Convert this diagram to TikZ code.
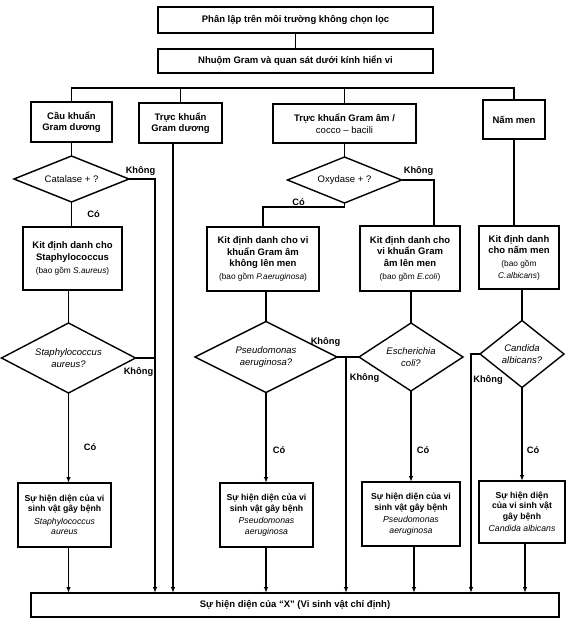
\documentclass[tikz,border=0pt]{standalone}
\usepackage{fontspec}
\setmainfont{Liberation Sans}
\usetikzlibrary{shapes.geometric,arrows.meta}
\newcommand\kitsub{\mdseries\fontsize{8.3}{10}\selectfont}
\newcommand\resit{\mdseries\itshape}
\begin{document}
\begin{tikzpicture}[x=1pt,y=-1pt,
  box/.style 2 args={draw,line width=1.4pt,rectangle,inner sep=1pt,outer sep=0pt,align=center,
    minimum width=#1,minimum height=#2,font=\bfseries\fontsize{9.5}{11.5}\selectfont},
  res/.style 2 args={box={#1}{#2},font=\bfseries\fontsize{8.7}{10.5}\selectfont},
  dia/.style 2 args={draw,line width=1.4pt,diamond,shape aspect=2,inner sep=0pt,outer sep=0pt,align=center,
    minimum width=#1,minimum height=#2,font=\fontsize{9.5}{11.5}\selectfont},
  diai/.style 2 args={dia={#1}{#2},font=\itshape\fontsize{9.5}{11.5}\selectfont},
  lbl/.style={font=\bfseries\fontsize{9.3}{11}\selectfont,inner sep=0pt},
  conn/.style={line width=1.3pt},
  arr/.style={conn,-{Latex[length=6pt,width=4.5pt]}},
]
\useasboundingbox[fill=white] (0,0) rectangle (575,626);

% boxes
\node[box={275}{26}] (top) at (295.5,20) {Phân lập trên môi trường không chọn lọc};
\node[box={275}{24}] (gram) at (295.5,61) {Nhuộm Gram và quan sát dưới kính hiển vi};
\node[box={81}{40}] (cau) at (71.5,122) {Cầu khuẩn\\Gram dương};
\node[box={83}{40}] (tdu) at (180.5,123) {Trực khuẩn\\Gram dương};
\node[box={143}{39}] (tam) at (344.5,123.5) {Trực khuẩn Gram âm /\\{\mdseries cocco – bacili}};
\node[box={62}{39}] (nm) at (514,119.5) {Nấm men};

\node[dia={115}{46}] (dcat) at (71.5,179) {Catalase + ?};
\node[dia={114}{46}] (dox) at (344.5,180) {Oxydase + ?};

\node[box={99}{63}] (kS) at (72.5,258.5) {Kit định danh cho\\Staphylococcus\\[1.5pt]{\kitsub (bao gồm \textit{S.aureus})}};
\node[box={112}{64}] (kP) at (263,259) {Kit định danh cho vi\\khuẩn Gram âm\\không lên men\\[1.5pt]{\kitsub (bao gồm \textit{P.aeruginosa})}};
\node[box={100}{65}] (kE) at (410,258.5) {Kit định danh cho\\vi khuẩn Gram\\âm lên men\\[1.5pt]{\kitsub (bao gồm \textit{E.coli})}};
\node[box={80}{63}] (kN) at (519,257.5) {Kit định danh\\cho nấm men\\[1.5pt]{\kitsub (bao gồm}\\{\kitsub\textit{C.albicans})}};

\node[diai={134}{70}] (dS) at (68.5,358) {Staphylococcus\\aureus?};
\node[diai={142}{71}] (dP) at (266,357) {Pseudomonas\\aeruginosa?};
\node[diai={104}{68}] (dE) at (411,357) {Escherichia\\coli?};
\node[diai={84}{67}] (dC) at (522,354) {Candida\\albicans?};

\node[res={93}{64}] (rS) at (64.5,515) {Sự hiện diện của vi\\sinh vật gây bệnh\\[2pt]{\resit Staphylococcus}\\{\resit aureus}};
\node[res={93}{64}] (rP) at (266.5,515) {Sự hiện diện của vi\\sinh vật gây bệnh\\[2pt]{\resit Pseudomonas}\\{\resit aeruginosa}};
\node[res={98}{64}] (rE) at (411,514) {Sự hiện diện của vi\\sinh vật gây bệnh\\[2pt]{\resit Pseudomonas}\\{\resit aeruginosa}};
\node[res={86}{62}] (rC) at (522,512) {Sự hiện diện\\của vi sinh vật\\gây bệnh\\[2pt]{\resit Candida albicans}};

\node[box={528}{24}] (bot) at (295,605) {Sự hiện diện của “X” (Vi sinh vật chỉ định)};

% connectors
\coordinate (busR) at (514,88);
\coordinate (xK1) at (155,0);
\coordinate (xT) at (173,0);
\coordinate (xOx) at (434,0);
\coordinate (xPE) at (346,0);
\coordinate (xC) at (471,0);
\coordinate (xEo) at (414,0);
\coordinate (xCo) at (525,0);

\draw[conn] (top) -- (gram);
\draw[conn] (cau.north) |- (busR) -- (nm.north);
\draw[conn] (tdu.north) -- (tdu.north |- busR);
\draw[conn] (tam.north) -- (tam.north |- busR);

\draw[conn] (cau.south) -- (dcat.north);
\draw[arr] (dcat.east) -| (bot.north -| xK1);
\draw[conn] (dS.east) -- (dS.east -| xK1);
\draw[arr] (tdu.south -| xT) -- (bot.north -| xT);
\draw[conn] (dcat.south) -- (kS.north -| dcat.south);
\draw[conn] (kS.south -| dS.north) -- (dS.north);
\draw[arr] (dS.south) -- (rS.north -| dS.south);
\draw[arr] (rS.south -| dS.south) -- (bot.north -| dS.south);

\draw[conn] (tam.south) -- (dox.north);
\draw[conn] (dox.east) -| (kE.north -| xOx);
\draw[conn] (dox.south) -- ++(0,4) -| (kP.north);
\draw[conn] (kP.south -| dP.north) -- (dP.north);
\draw[arr] (dP.south) -- (rP.north -| dP.south);
\draw[arr] (rP.south -| dP.south) -- (bot.north -| dP.south);
\draw[conn] (dP.east) -- (dE.west);
\draw[arr] (dP.east -| xPE) -- (bot.north -| xPE);
\draw[conn] (kE.south -| dE.north) -- (dE.north);
\draw[arr] (dE.south) -- (rE.north -| dE.south);
\draw[arr] (rE.south -| xEo) -- (bot.north -| xEo);

\draw[conn] (nm.south) -- (kN.north -| nm.south);
\draw[conn] (kN.south -| dC.north) -- (dC.north);
\draw[arr] (dC.south) -- (rC.north -| dC.south);
\draw[arr] (rC.south -| xCo) -- (bot.north -| xCo);
\draw[arr] (dC.west) -| (bot.north -| xC);

% labels
\node[lbl] (k1) at (140.5,171) {Không};
\node[lbl] (c1) at (93.5,214) {Có};
\node[lbl] (k2) at (138.5,372) {Không};
\node[lbl] (c2) at (90,447) {Có};
\node[lbl] (k3) at (418.5,171) {Không};
\node[lbl] (c3) at (298.5,202) {Có};
\node[lbl] (k4) at (325.5,342) {Không};
\node[lbl] (k5) at (364.5,378) {Không};
\node[lbl] (c4) at (279,450) {Có};
\node[lbl] (c5) at (423,450) {Có};
\node[lbl] (c6) at (533,450) {Có};
\node[lbl] (k6) at (488,380) {Không};
\end{tikzpicture}
\end{document}
